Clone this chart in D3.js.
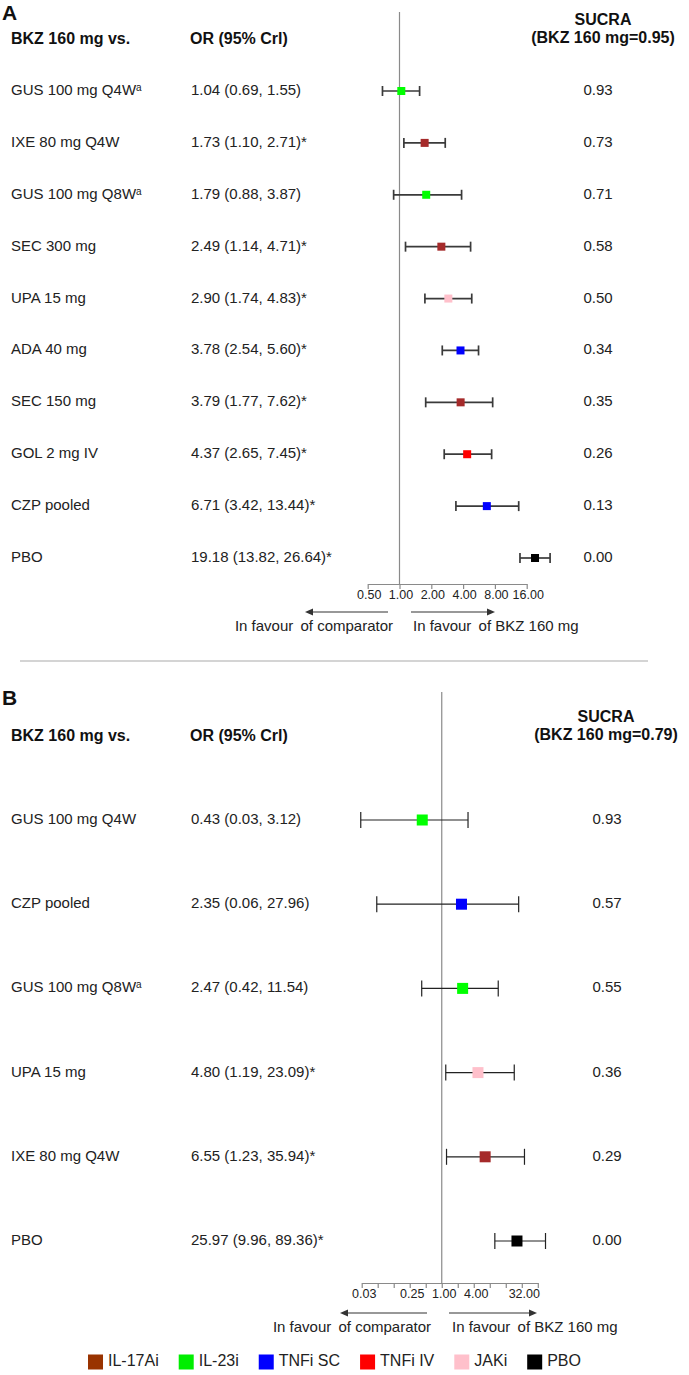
<!DOCTYPE html>
<html>
<head>
<meta charset="utf-8">
<script src="https://cdn.jsdelivr.net/npm/d3@7"></script>
<style>
  body { margin: 0; background: #fff; }
  svg { display: block; font-family: "Liberation Sans", Arial, sans-serif; }
</style>
</head>
<body>
<svg id="chart" width="689" height="1375"></svg>
<script>
// ---------- Panel A data ----------
const labelsA = ["GUS 100 mg Q4W", "IXE 80 mg Q4W", "GUS 100 mg Q8W", "SEC 300 mg", "UPA 15 mg",
                 "ADA 40 mg", "SEC 150 mg", "GOL 2 mg IV", "CZP pooled", "PBO"];
const supA    = ["a", "", "a", "", "", "", "", "", "", ""];
const orA     = [1.04, 1.73, 1.79, 2.49, 2.90, 3.78, 3.79, 4.37, 6.71, 19.18];
const loA     = [0.69, 1.10, 0.88, 1.14, 1.74, 2.54, 1.77, 2.65, 3.42, 13.82];
const hiA     = [1.55, 2.71, 3.87, 4.71, 4.83, 5.60, 7.62, 7.45, 13.44, 26.64];
const sigA    = [false, true, false, true, true, true, true, true, true, true];
const sucraA  = ["0.93", "0.73", "0.71", "0.58", "0.50", "0.34", "0.35", "0.26", "0.13", "0.00"];
const classA  = ["IL-23i", "IL-17Ai", "IL-23i", "IL-17Ai", "JAKi", "TNFi SC", "IL-17Ai", "TNFi IV", "TNFi SC", "PBO"];
const ticksA  = [0.5, 1, 2, 4, 8, 16];
const tickLabelsA = ["0.50", "1.00", "2.00", "4.00", "8.00", "16.00"];

// ---------- Panel B data ----------
const labelsB = ["GUS 100 mg Q4W", "CZP pooled", "GUS 100 mg Q8W", "UPA 15 mg", "IXE 80 mg Q4W", "PBO"];
const supB    = ["", "", "a", "", "", ""];
const orB     = [0.43, 2.35, 2.47, 4.80, 6.55, 25.97];
const loB     = [0.03, 0.06, 0.42, 1.19, 1.23, 9.96];
const hiB     = [3.12, 27.96, 11.54, 23.09, 35.94, 89.36];
const sigB    = [false, false, false, true, true, true];
const sucraB  = ["0.93", "0.57", "0.55", "0.36", "0.29", "0.00"];
const classB  = ["IL-23i", "TNFi SC", "IL-23i", "JAKi", "IL-17Ai", "PBO"];
const ticksB  = [1/32, 1/16, 1/8, 1/4, 1/2, 1, 2, 4, 8, 16, 32, 64];
const labeledTicksB = [1/32, 1/4, 1, 4, 32];
const tickLabelsB = ["0.03", "0.25", "1.00", "4.00", "32.00"];

// ---------- Legend ----------
const legendClasses = ["IL-17Ai", "IL-23i", "TNFi SC", "TNFi IV", "JAKi", "PBO"];
const legendColors  = ["#993300", "#00ee00", "#0000ff", "#ff0000", "#ffc0cb", "#000000"];
const markerColors  = ["#a52a2a", "#00ff00", "#0000ff", "#ff0000", "#ffc0cb", "#000000"];

const markerColor = d3.scaleOrdinal().domain(legendClasses).range(markerColors);
const legendColor = d3.scaleOrdinal().domain(legendClasses).range(legendColors);

const svg = d3.select("#chart");
const fmt = d3.format(".2f");

function favourText(g, x, y, anchor, tail) {
  const t = g.append("text").attr("x", x).attr("y", y).attr("font-size", 15).attr("text-anchor", anchor)
    .attr("dominant-baseline", "middle").attr("fill", "#222");
  t.append("tspan").text("In favour");
  t.append("tspan").attr("dx", 3).text(" of " + tail);
}

function panel(cfg) {
  const g = svg.append("g");
  const x = d3.scaleLog().base(2).domain(cfg.domain).range(cfg.range);
  const n = cfg.labels.length;
  const y = d3.scalePoint().domain(d3.range(n)).range([cfg.firstRow, cfg.lastRow]);

  // panel letter
  g.append("text").attr("x", 2).attr("y", cfg.letterY).attr("font-size", 21).attr("font-weight", "bold")
    .attr("fill", "#111").text(cfg.letter);

  // headers
  const hs = 16;
  g.append("text").attr("x", 11).attr("y", cfg.headerY).attr("font-size", hs).attr("font-weight", "bold")
    .attr("dominant-baseline", "middle").attr("fill", "#111").text("BKZ 160 mg vs.");
  g.append("text").attr("x", 190).attr("y", cfg.headerY).attr("font-size", hs).attr("font-weight", "bold")
    .attr("dominant-baseline", "middle").attr("fill", "#111").text("OR (95% Crl)");
  g.append("text").attr("x", cfg.sucraHeadX).attr("y", cfg.headerY - 19).attr("font-size", hs).attr("font-weight", "bold")
    .attr("text-anchor", "middle").attr("dominant-baseline", "middle").attr("fill", "#111").text("SUCRA");
  g.append("text").attr("x", cfg.sucraHeadX).attr("y", cfg.headerY - 1).attr("font-size", hs).attr("font-weight", "bold")
    .attr("text-anchor", "middle").attr("dominant-baseline", "middle").attr("fill", "#111").text(cfg.sucraHead);

  // reference line
  g.append("line").attr("x1", x(1)).attr("x2", x(1)).attr("y1", cfg.refTop).attr("y2", cfg.axisY)
    .attr("stroke", "#8a8a8a").attr("stroke-width", 1.2);

  // rows
  const rows = g.selectAll("g.row").data(d3.range(n)).join("g").attr("class", "row");
  const lab = rows.append("text").attr("x", 11).attr("y", i => y(i)).attr("font-size", 15)
    .attr("dominant-baseline", "middle").attr("fill", "#222");
  lab.append("tspan").text(i => cfg.labels[i]);
  lab.filter(i => cfg.sup[i]).append("tspan").attr("font-size", 10).attr("dy", -3).text(i => cfg.sup[i]);

  rows.append("text").attr("x", 191).attr("y", i => y(i)).attr("font-size", 15)
    .attr("dominant-baseline", "middle").attr("fill", "#222")
    .text(i => `${fmt(cfg.or[i])} (${fmt(cfg.lo[i])}, ${fmt(cfg.hi[i])})${cfg.sig[i] ? "*" : ""}`);

  rows.append("text").attr("x", cfg.sucraX).attr("y", i => y(i)).attr("font-size", 15)
    .attr("text-anchor", "middle").attr("dominant-baseline", "middle").attr("fill", "#222")
    .text(i => cfg.sucra[i]);

  // whiskers
  rows.append("line").attr("x1", i => x(cfg.lo[i])).attr("x2", i => x(cfg.hi[i]))
    .attr("y1", i => y(i)).attr("y2", i => y(i)).attr("stroke", cfg.whiskColor).attr("stroke-width", cfg.whiskW);
  rows.append("line").attr("x1", i => x(cfg.lo[i])).attr("x2", i => x(cfg.lo[i]))
    .attr("y1", i => y(i) - cfg.cap).attr("y2", i => y(i) + cfg.cap).attr("stroke", cfg.whiskColor).attr("stroke-width", cfg.whiskW);
  rows.append("line").attr("x1", i => x(cfg.hi[i])).attr("x2", i => x(cfg.hi[i]))
    .attr("y1", i => y(i) - cfg.cap).attr("y2", i => y(i) + cfg.cap).attr("stroke", cfg.whiskColor).attr("stroke-width", cfg.whiskW);
  rows.append("rect").attr("x", i => x(cfg.or[i]) - cfg.sq / 2).attr("y", i => y(i) - cfg.sq / 2)
    .attr("width", cfg.sq).attr("height", cfg.sq).attr("fill", i => markerColor(cfg.cls[i]));

  // axis
  const axis = d3.axisBottom(x).tickValues(cfg.ticks).tickSize(5).tickSizeOuter(0)
    .tickFormat(d => {
      const k = cfg.labeledTicks.findIndex(t => Math.abs(t - d) < 1e-9);
      return k >= 0 ? cfg.tickLabels[k] : "";
    });
  const ax = g.append("g").attr("transform", `translate(0,${cfg.axisY})`).call(axis);
  ax.select(".domain").attr("stroke", "#8a8a8a").attr("stroke-width", 1.2);
  ax.selectAll(".tick line").attr("stroke", "#8a8a8a").attr("stroke-width", 1.2);
  ax.selectAll(".tick text").attr("font-family", "'Liberation Sans', Arial, sans-serif").attr("font-size", 12.5)
    .attr("fill", "#222").attr("dy", "0.9em").attr("y", 4).attr("dx", cfg.tickDx);

  // arrows
  const ay = cfg.axisY + cfg.arrowDy;
  const arrowColor = "#333";
  function arrow(x1, x2) {
    const dir = x2 > x1 ? 1 : -1;
    g.append("line").attr("x1", x1).attr("x2", x2 - dir * 6).attr("y1", ay).attr("y2", ay)
      .attr("stroke", arrowColor).attr("stroke-width", 1.2);
    g.append("path").attr("d", `M${x2},${ay} L${x2 - dir * 8},${ay - 3.5} L${x2 - dir * 8},${ay + 3.5} Z`).attr("fill", arrowColor);
  }
  arrow(cfg.leftArrow[0], cfg.leftArrow[1]);
  arrow(cfg.rightArrow[0], cfg.rightArrow[1]);
  favourText(g, cfg.leftTextEnd, ay + 15, "end", "comparator");
  favourText(g, cfg.rightTextStart, ay + 15, "start", "BKZ 160 mg");
}

panel({
  letter: "A", letterY: 20, headerY: 40, sucraHeadX: 603, sucraHead: "(BKZ 160 mg=0.95)", sucraX: 598,
  labels: labelsA, sup: supA, or: orA, lo: loA, hi: hiA, sig: sigA, sucra: sucraA, cls: classA,
  domain: [0.5, 16], range: [367.7, 526.7], firstRow: 91, lastRow: 558,
  refTop: 12, axisY: 584, ticks: ticksA, labeledTicks: ticksA, tickLabels: tickLabelsA, tickDx: 1,
  sq: 8, cap: 5, whiskW: 1.7, whiskColor: "#3a3a3a",
  arrowDy: 28, leftArrow: [388, 305], rightArrow: [411, 495], leftTextEnd: 393, rightTextStart: 413
});

// separator
svg.append("line").attr("x1", 20).attr("x2", 648).attr("y1", 661).attr("y2", 661)
  .attr("stroke", "#aaaaaa").attr("stroke-width", 1.2);

panel({
  letter: "B", letterY: 705, headerY: 737, sucraHeadX: 606, sucraHead: "(BKZ 160 mg=0.79)", sucraX: 607,
  labels: labelsB, sup: supB, or: orB, lo: loB, hi: hiB, sig: sigB, sucra: sucraB, cls: classB,
  domain: [1/32, 64], range: [361.7, 537.8], firstRow: 820, lastRow: 1241,
  refTop: 692, axisY: 1283, ticks: ticksB, labeledTicks: labeledTicksB, tickLabels: tickLabelsB, tickDx: 2,
  sq: 11, cap: 8, whiskW: 1.2, whiskColor: "#222",
  arrowDy: 30, leftArrow: [427, 340], rightArrow: [449, 537], leftTextEnd: 431, rightTextStart: 452
});

// legend (centered)
const leg = svg.append("g");
const legY = 1362, sw = 15, gapText = 5, gapItem = 20;
let lx = 0;
legendClasses.forEach((c, i) => {
  leg.append("rect").attr("x", lx).attr("y", legY - sw / 2).attr("width", sw).attr("height", sw).attr("fill", legendColor(c));
  const t = leg.append("text").attr("x", lx + sw + gapText).attr("y", legY).attr("font-size", 16)
    .attr("dominant-baseline", "middle").attr("fill", "#222").text(c);
  lx += sw + gapText + t.node().getComputedTextLength() + (i < legendClasses.length - 1 ? gapItem : 0);
});
leg.attr("transform", `translate(${(86 + 583) / 2 - lx / 2},0)`);
</script>
</body>
</html>
